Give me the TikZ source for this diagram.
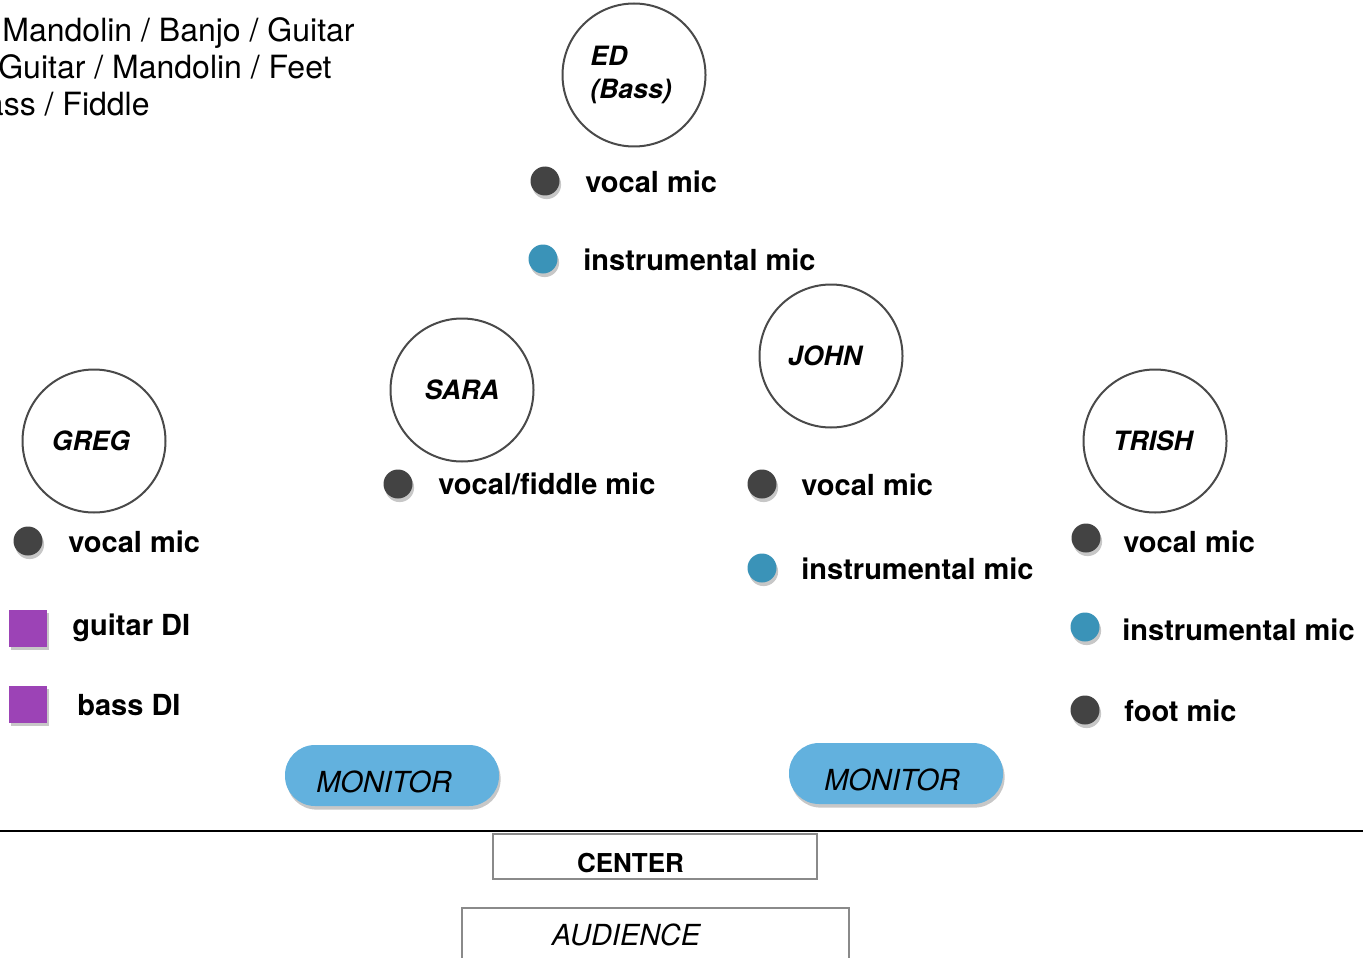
\documentclass[tikz,border=0pt]{standalone}
\usepackage{fontspec}
\setmainfont{TeX Gyre Heros}
\usetikzlibrary{shadows}
\definecolor{micdark}{HTML}{434343}
\definecolor{micblue}{HTML}{3A93B8}
\definecolor{dipurple}{HTML}{9C43B6}
\definecolor{monblue}{HTML}{62B1DE}
\definecolor{ringgray}{HTML}{4A4A4A}
\definecolor{boxgray}{HTML}{8A8A8A}
\tikzset{
  person/.style={circle, draw=ringgray, line width=1pt, minimum size=71.5pt, inner sep=0pt,
    font=\fontsize{13.3}{16.5}\selectfont\bfseries\itshape},
  softshadow/.style={drop shadow={shadow xshift=0.8pt, shadow yshift=-1.8pt, opacity=0.22, fill=black}},
  vocalmic/.style={circle, fill=micdark, minimum size=14.5pt, inner sep=0pt, softshadow},
  instrmic/.style={circle, fill=micblue, minimum size=14.5pt, inner sep=0pt, softshadow},
  di/.style={rectangle, fill=dipurple, minimum width=19pt, minimum height=18.5pt, inner sep=0pt, softshadow},
  lbl/.style={anchor=base west, inner sep=0pt, font=\fontsize{14.5}{17}\selectfont\bfseries},
  monitorshape/.style={rectangle, rounded corners=15pt, fill=monblue, minimum width=107pt, minimum height=30.5pt, inner sep=0pt, softshadow},
  montext/.style={anchor=base, inner sep=0pt, font=\fontsize{14.5}{17}\selectfont\itshape},
  framebox/.style={rectangle, draw=boxgray, line width=1pt, inner sep=0pt},
  toptext/.style={anchor=base east, inner sep=0pt, font=\fontsize{16}{19}\selectfont},
}
\begin{document}
\begin{tikzpicture}[x=0.5pt,y=-0.5pt]
\useasboundingbox (0,0) rectangle (1363,957);

% top-left list
\node[toptext] (t1) at (355,42) {Mandolin / Banjo / Guitar};
\node[toptext] (t2) at (332,79) {Guitar / Mandolin / Feet};
\node[toptext] (t3) at (150,116) {ass / Fiddle};

% performers
\node[person, align=left] (ed) at (634,75) {ED\kern3pt\\[0pt](Bass)\kern3pt};
\node[person] (sara) at (462,390) {SARA};
\node[person] (john) at (831,356) {JOHN\kern6pt};
\node[person] (greg) at (94,441) {GREG\kern3pt};
\node[person] (trish) at (1155,441) {TRISH\kern2pt};

% ED mics
\node[vocalmic] (edv) at (545,181) {};
\node[lbl] (edvl) at (585,192) {vocal mic};
\node[instrmic] (edi) at (543,259) {};
\node[lbl] (edil) at (583,270) {instrumental mic};

% SARA
\node[vocalmic] (sarav) at (398,484) {};
\node[lbl] (saravl) at (438,494) {vocal/fiddle mic};

% JOHN
\node[vocalmic] (johnv) at (762,484) {};
\node[lbl] (johnvl) at (801,495) {vocal mic};
\node[instrmic] (johni) at (762,568) {};
\node[lbl] (johnil) at (801,579) {instrumental mic};

% GREG
\node[vocalmic] (gregv) at (28,541) {};
\node[lbl] (gregvl) at (68,552) {vocal mic};
\node[di] (gregg) at (28,628) {};
\node[lbl] (greggl) at (72,635) {guitar DI};
\node[di] (gregb) at (28,704) {};
\node[lbl] (gregbl) at (77,715) {bass DI};

% TRISH
\node[vocalmic] (trishv) at (1086,538) {};
\node[lbl] (trishvl) at (1123,552) {vocal mic};
\node[instrmic] (trishi) at (1085,627) {};
\node[lbl] (trishil) at (1122,640) {instrumental mic};
\node[vocalmic] (trishf) at (1085,710) {};
\node[lbl] (trishfl) at (1124,721) {foot mic};

% monitors
\node[monitorshape] (monL) at (392,775.5) {};
\node[montext] (monLt) at (384,792) {MONITOR};
\node[monitorshape] (monR) at (896,773.5) {};
\node[montext] (monRt) at (892,790) {MONITOR};

% stage edge
\coordinate (edgeL) at (0,831);
\coordinate (edgeR) at (1363,831);
\draw[line width=0.75pt] (edgeL) -- (edgeR);

% center / audience
\node[framebox, minimum width=162pt, minimum height=22.5pt] (center) at (655,856.5) {};
\node[anchor=base, inner sep=0pt, font=\fontsize{13}{16}\selectfont\bfseries] (centert) at (630.5,872) {CENTER};
\node[framebox, minimum width=193.5pt, minimum height=40pt] (aud) at (655,948) {};
\node[anchor=base, inner sep=0pt, font=\fontsize{14.5}{17}\selectfont\itshape] (audt) at (626,945) {AUDIENCE};
\end{tikzpicture}
\end{document}
